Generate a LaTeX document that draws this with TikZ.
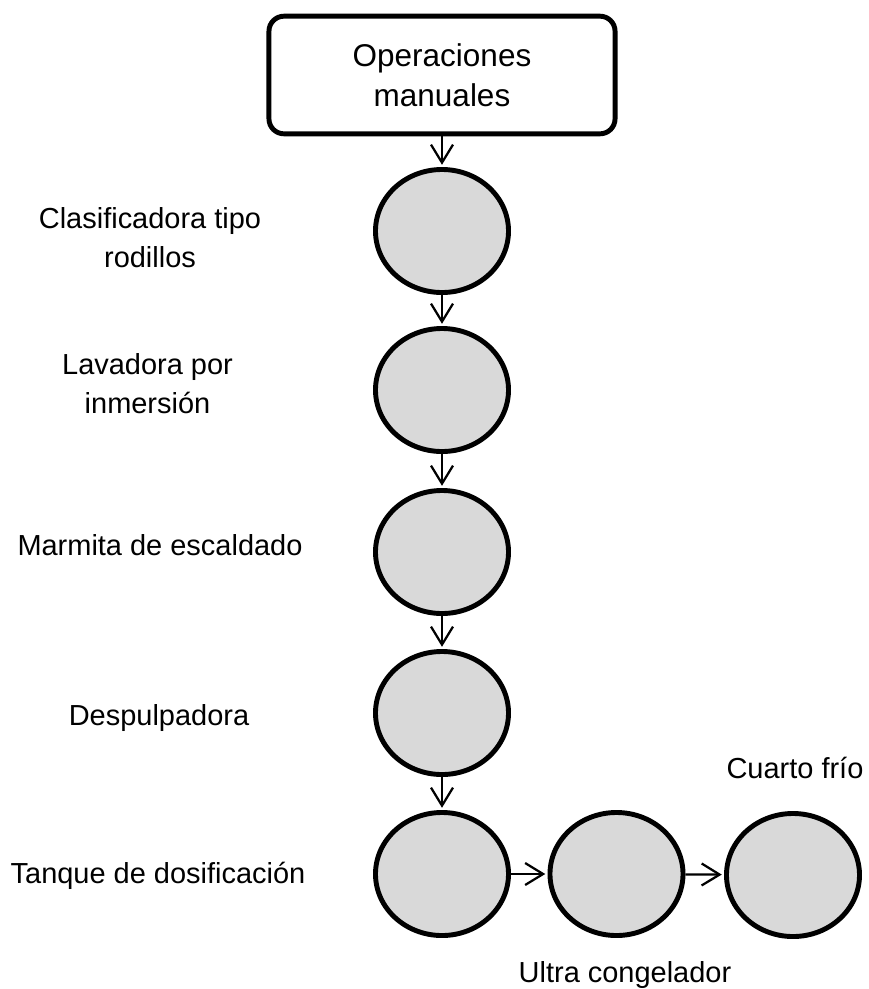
\documentclass[tikz,border=0pt]{standalone}
\usepackage{fontspec}
\setmainfont{Liberation Sans}
\usepackage{tikz}
\usetikzlibrary{shapes, arrows, arrows.meta, positioning}
\definecolor{equipGray}{RGB}{217,217,217}
\tikzstyle{equipment}=[ellipse, draw, line width=3.5pt, fill=equipGray, minimum width=3.325cm, minimum height=3.075cm, inner sep=0pt]
\tikzstyle{start}=[rectangle, draw, line width=3.5pt, rounded corners=0.375cm, minimum width=8.65cm, minimum height=2.94cm, align=center, font=\fontsize{22.4pt}{28.45pt}\selectfont]
\tikzstyle{tag}=[align=center, anchor=base, inner sep=0pt, font=\fontsize{20.6pt}{27.7pt}\selectfont]
\tikzstyle{arrow}=[-{Straight Barb[length=0.45cm, width=0.55cm]}, line width=1.6pt, shorten >=1.6pt]

\begin{document}
\begin{tikzpicture}[x=0.025cm, y=-0.025cm]
      \useasboundingbox (0,0) rectangle (869,989);

      \node[start] (manualOps) at (442,75) {Operaciones\\manuales};
      \node[equipment] (classifier) at (442,231) {};
      \node[equipment] (washer) at (442,390) {};
      \node[equipment] (blancher) at (442,552) {};
      \node[equipment] (pulper) at (442,713) {};
      \node[equipment] (dosingTank) at (442,874) {};
      \node[equipment] (freezer) at (616.5,874) {};
      \node[equipment] (coldRoom) at (793,875) {};

      % base of a two-line tag is its last line
      \node[tag] (classifierLabel) at (150,267) {Clasificadora tipo\\rodillos};
      \node[tag] (washerLabel) at (147.5,413) {Lavadora por\\inmersión};
      \node[tag] (blancherLabel) at (160,555) {Marmita de escaldado};
      \node[tag] (pulperLabel) at (159,725) {Despulpadora};
      \node[tag] (dosingTankLabel) at (158,883) {Tanque de dosificación};
      \node[tag] (coldRoomLabel) at (795,778) {Cuarto frío};
      \node[tag] (freezerLabel) at (625,982) {Ultra congelador};

      \draw[arrow] (manualOps) -- (classifier);
      \draw[arrow] (classifier) -- (washer);
      \draw[arrow] (washer) -- (blancher);
      \draw[arrow] (blancher) -- (pulper);
      \draw[arrow] (pulper) -- (dosingTank);
      \draw[arrow] (dosingTank) -- (freezer);
      \draw[arrow] (freezer) -- (coldRoom);
\end{tikzpicture}
\end{document}
